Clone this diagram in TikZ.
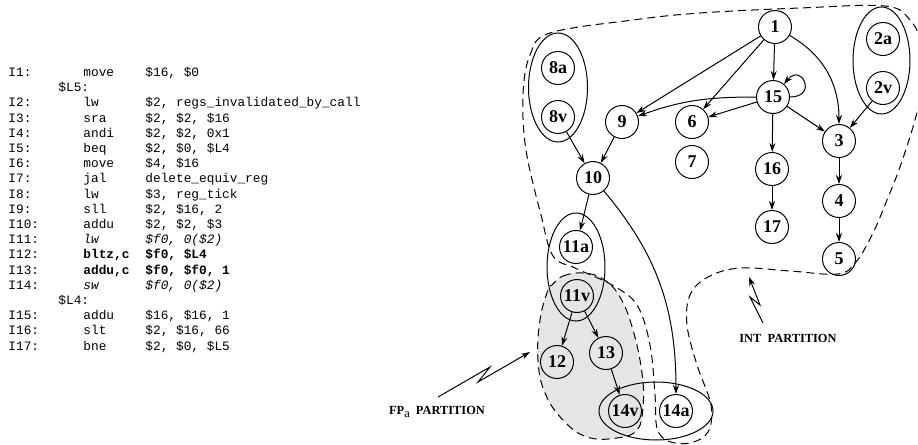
\documentclass[tikz,border=0pt]{standalone}
\usepackage{fontspec}
\setmainfont{Liberation Serif}
\setmonofont{Liberation Mono}
\usetikzlibrary{arrows.meta, shapes.geometric}

\begin{document}
\begin{tikzpicture}[
  x=0.5pt, y=-0.5pt,
  code/.style={font=\ttfamily\fontsize{6.4}{7.5}\selectfont,
               inner sep=0pt, anchor=base west},
  vtx/.style={circle, draw, line width=0.5pt, minimum size=16.5pt,
              inner sep=0pt, font=\bfseries\fontsize{9}{9}\selectfont},
  grp/.style={ellipse, draw, line width=0.5pt, inner sep=0pt},
  arr/.style={-{Stealth[length=4.5pt, width=3pt]}, line width=0.5pt},
  part/.style={dash pattern=on 4pt off 2.5pt, line width=0.5pt},
  tag/.style={font=\bfseries\fontsize{6.2}{6.2}\selectfont, inner sep=0pt}
]
  \useasboundingbox (0,0) rectangle (918,445);

  % Code listing
  \foreach \r/\lab/\op/\arg in {
    0/I1:/move/{\$16, \$0},
    2/I2:/lw/{\$2, regs\_invalidated\_by\_call},
    3/I3:/sra/{\$2, \$2, \$16},
    4/I4:/andi/{\$2, \$2, 0x1},
    5/I5:/beq/{\$2, \$0, \$L4},
    6/I6:/move/{\$4, \$16},
    7/I7:/jal/{delete\_equiv\_reg},
    8/I8:/lw/{\$3, reg\_tick},
    9/I9:/sll/{\$2, \$16, 2},
    10/I10:/addu/{\$2, \$2, \$3},
    11/I11:/{\itshape lw}/{\itshape \$f0, 0(\$2)},
    12/I12:/{\bfseries bltz,c}/{\bfseries \$f0, \$L4},
    13/I13:/{\bfseries addu,c}/{\bfseries \$f0, \$f0, 1},
    14/I14:/{\itshape sw}/{\itshape \$f0, 0(\$2)},
    16/I15:/addu/{\$16, \$16, 1},
    17/I16:/slt/{\$2, \$16, 66},
    18/I17:/bne/{\$2, \$0, \$L5}}{
    \node[code] (lab\r) at (8, 76.5+15.2*\r) {\lab};
    \node[code] (mn\r)  at (83, 76.5+15.2*\r) {\op};
    \node[code] (op\r)  at (145, 76.5+15.2*\r) {\arg};
  }
  \node[code] (l5) at (58, 76.5+15.2) {\$L5:};
  \node[code] (l4) at (58, 76.5+15.2*15) {\$L4:};

  % Partitions
  \path[part, draw, fill=gray!20] plot[smooth cycle, tension=0.7] coordinates {
    (552,285) (563,276) (583,273) (603,279) (620,297) (633,330) (642,373)
    (643,407) (637,430) (617,438) (587,437) (563,420) (545,393) (538,360)
    (540,320) (548,290)};
  \draw[part] plot[smooth cycle, tension=0.6] coordinates {
    (523,95) (530,55) (550,33) (633,20) (700,13) (800,8) (885,6) (910,20)
    (921,45) (921,90) (915,120) (900,167) (887,200) (873,233) (856,262)
    (838,274) (790,271) (740,268) (708,277) (690,295) (687,325) (697,365)
    (711,405) (708,432) (690,443) (668,441) (657,428) (655,395) (650,345)
    (637,305) (612,285) (575,268) (553,256) (541,215) (526,150)};

  % Vertices
  \node[vtx] (n1)   at (775,27)  {1};
  \node[vtx] (n2a)  at (883,39)  {2a};
  \node[vtx] (n2v)  at (883,88)  {2v};
  \node[vtx] (n3)   at (839,141) {3};
  \node[vtx] (n4)   at (839,201) {4};
  \node[vtx] (n5)   at (839,259) {5};
  \node[vtx] (n6)   at (692,122) {6};
  \node[vtx] (n7)   at (692,162) {7};
  \node[vtx] (n8a)  at (558,68)  {8a};
  \node[vtx] (n8v)  at (558,117) {8v};
  \node[vtx] (n9)   at (622,122) {9};
  \node[vtx] (n10)  at (593,178) {10};
  \node[vtx] (n11a) at (576,247) {11a};
  \node[vtx] (n11v) at (577,296) {11v};
  \node[vtx] (n12)  at (557,362) {12};
  \node[vtx] (n13)  at (606,353) {13};
  \node[vtx] (n14v) at (625,411) {14v};
  \node[vtx] (n14a) at (676,411) {14a};
  \node[vtx] (n15)  at (773,97)  {15};
  \node[vtx] (n16)  at (772,169) {16};
  \node[vtx] (n17)  at (772,227) {17};

  % Groups
  \node[grp, minimum width=29.5pt, minimum height=54.5pt] (g8)  at (558,87.5)  {};
  \node[grp, minimum width=28.5pt, minimum height=53.5pt] (g2)  at (881.5,60.5) {};
  \node[grp, minimum width=29pt,   minimum height=54pt]   (g11) at (576,267)   {};
  \node[grp, minimum width=57pt,   minimum height=29pt]   (g14) at (656,411)   {};

  % Edges
  \draw[arr] (n1) -- (n9);
  \draw[arr] (n1) -- (n6);
  \draw[arr] (n1) -- (n15);
  \draw[arr] (n1) to[out=-30, in=90] (n3);
  \draw[arr] (n15) to[out=0, in=50, looseness=5] (n15);
  \draw[arr] (n15) to[out=180, in=20] (n9);
  \draw[arr] (n15) -- (n6);
  \draw[arr] (n15) -- (n3);
  \draw[arr] (n15) -- (n16);
  \draw[arr] (n16) -- (n17);
  \draw[arr] (n2v) -- (n3);
  \draw[arr] (n3) -- (n4);
  \draw[arr] (n4) -- (n5);
  \draw[arr] (n8v) -- (n10);
  \draw[arr] (n9) -- (n10);
  \draw[arr] (n10) -- (n11a);
  \draw[arr] (n10) to[out=-50, in=90] (n14a);
  \draw[arr] (n11v) -- (n12);
  \draw[arr] (n11v) -- (n13);
  \draw[arr] (n13) -- (n14v);

  % Partition labels
  \node[tag] (fplab)  at (437,412) {FP\raisebox{-1.6pt}{\mdseries a}\ \ PARTITION};
  \node[tag] (intlab) at (788,338) {INT\ \ PARTITION};
  \coordinate (fpfrom)  at (438,397);
  \coordinate (fptip)   at (530,352);
  \coordinate (intfrom) at (763,323);
  \coordinate (inttip)  at (749,277);
  \draw[arr] (fpfrom) -- (490,367) -- (478,382) -- (fptip);
  \draw[arr] (intfrom) -- (750,297) -- (760,305) -- (inttip);
\end{tikzpicture}
\end{document}
